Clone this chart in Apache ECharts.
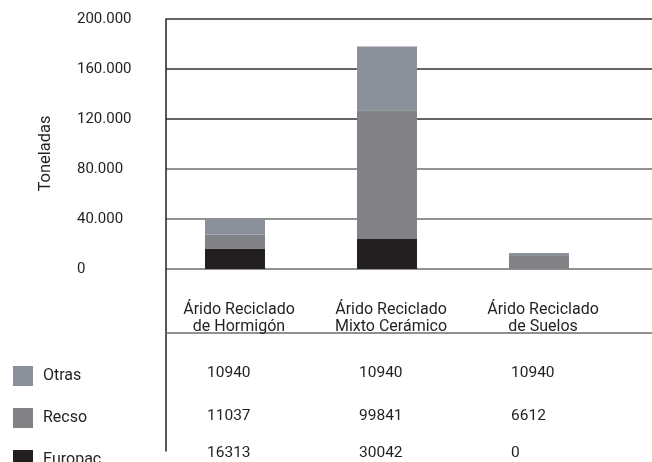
<!DOCTYPE html>
<html>
<head>
<meta charset="utf-8">
<script src="https://cdn.jsdelivr.net/npm/echarts@6/dist/echarts.min.js"></script>
<style>
  html, body { margin: 0; padding: 0; background: #fff; }
  #chart { width: 652px; height: 462px; }
</style>
</head>
<body>
<div id="chart"></div>
<script>
// ---- data ----
const categories = ['Árido Reciclado\nde Hormigón', 'Árido Reciclado\nMixto Cerámico', 'Árido Reciclado\nde Suelos'];
const seriesNames = ['Otras', 'Recso', 'Europac'];
// bar heights as drawn in the picture (tonnes)
const europacValues = [16500, 24000, 0];
const recsoValues = [11200, 103000, 10400];
const otrasValues = [12000, 51000, 2400];
// values printed in the table under the chart
const tableOtras = ['10940', '10940', '10940'];
const tableRecso = ['11037', '99841', '6612'];
const tableEuropac = ['16313', '30042', '0'];
const yMin = 0, yMax = 200000, yInterval = 40000;

const colors = { Otras: '#899099', Recso: '#818285', Europac: '#231f20' };
const textColor = '#231f20';
const font = 'Roboto';

function fmtThousands(v) {
  return String(v).replace(/\B(?=(\d{3})+(?!\d))/g, '.');
}

const chart = echarts.init(document.getElementById('chart'), null, { renderer: 'canvas' });

function tableAxis(gridIndex, data, margin) {
  return {
    type: 'category', gridIndex: gridIndex, data: data, position: 'bottom',
    axisLine: { show: false }, axisTick: { show: false }, splitLine: { show: false },
    axisLabel: { show: true, interval: 0, margin: margin, align: 'left', color: textColor,
      fontFamily: font, fontSize: 15.5, lineHeight: 18 }
  };
}

const option = {
  animation: false,
  textStyle: { fontFamily: font },
  legend: {
    data: seriesNames,
    orient: 'vertical', left: 8, top: 361, height: 140,
    itemWidth: 20, itemHeight: 20, itemGap: 22,
    icon: 'rect',
    textStyle: { color: textColor, fontSize: 16, fontFamily: font, padding: [0, 0, 0, 5] }
  },
  grid: [
    { left: 166, right: 0, top: 19, height: 250 },   // y axis + grid lines
    { left: 159, width: 456, top: 19, height: 250 },  // bars
    { left: 131, width: 456, top: 19, height: 250 },  // table values
    { left: 166, width: 10, top: 19, bottom: 11 }     // long vertical axis line
  ],
  xAxis: [
    { type: 'category', gridIndex: 0, data: categories, show: false },
    { type: 'category', gridIndex: 0, data: categories, position: 'bottom', offset: 64,
      axisLine: { show: true, lineStyle: { color: '#6d6e71', width: 1.5 } },
      axisTick: { show: false }, axisLabel: { show: false }, splitLine: { show: false } },
    { type: 'category', gridIndex: 1, data: categories,
      axisLine: { show: false }, axisTick: { show: false }, splitLine: { show: false },
      axisLabel: { interval: 0, margin: 32, color: textColor, fontFamily: font, fontSize: 16,
        lineHeight: 17, padding: [0, 0, 0, 8] } },
    tableAxis(2, tableOtras, 99),
    tableAxis(2, tableRecso, 142),
    tableAxis(2, tableEuropac, 179),
    { type: 'category', gridIndex: 3, data: [''], show: false }
  ],
  yAxis: [
    { type: 'value', gridIndex: 0, min: yMin, max: yMax, interval: yInterval,
      name: 'Toneladas', nameLocation: 'middle', nameGap: 112, nameRotate: 90,
      nameTextStyle: { color: textColor, fontSize: 16.5, fontFamily: font, padding: [0, 19, 0, 0] },
      axisLine: { show: false }, axisTick: { show: false },
      axisLabel: { margin: 89, align: 'left', color: textColor, fontSize: 15, fontFamily: font,
        formatter: fmtThousands },
      splitLine: { show: true, lineStyle: { width: 1.5,
        color: ['#6d6e71', '#6d6e71', '#6d6e71', '#333333', '#333333', '#333333'] } } },
    { type: 'value', gridIndex: 1, min: yMin, max: yMax, interval: yInterval, show: false,
      splitLine: { show: false } },
    { type: 'value', gridIndex: 2, min: yMin, max: yMax, interval: yInterval, show: false,
      splitLine: { show: false } },
    { type: 'value', gridIndex: 3, min: 0, max: 1, show: true,
      axisLine: { show: true, lineStyle: { color: textColor, width: 1.5 } },
      axisTick: { show: false }, axisLabel: { show: false }, splitLine: { show: false } }
  ],
  series: [
    { name: 'Europac', type: 'bar', stack: 'total', xAxisIndex: 2, yAxisIndex: 1,
      barWidth: 60, data: europacValues, itemStyle: { color: colors.Europac } },
    { name: 'Recso', type: 'bar', stack: 'total', xAxisIndex: 2, yAxisIndex: 1,
      barWidth: 60, data: recsoValues, itemStyle: { color: colors.Recso } },
    { name: 'Otras', type: 'bar', stack: 'total', xAxisIndex: 2, yAxisIndex: 1,
      barWidth: 60, data: otrasValues, itemStyle: { color: colors.Otras } }
  ]
};

chart.setOption(option);
</script>
</body>
</html>
